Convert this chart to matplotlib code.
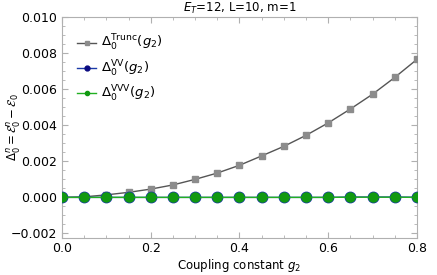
import matplotlib.pyplot as plt
from matplotlib.ticker import MultipleLocator

g2 = [0.0, 0.05, 0.1, 0.15, 0.2, 0.25, 0.3, 0.35, 0.4, 0.45, 0.5, 0.55, 0.6, 0.65, 0.7, 0.75, 0.8]
delta_trunc = [0.0, 0.00003, 0.00014, 0.00028, 0.00046, 0.00069, 0.00100, 0.00135, 0.00178, 0.00230,
               0.00283, 0.00344, 0.00413, 0.00490, 0.00572, 0.00665, 0.00765]
delta_vv = [0.0, 0.0, 0.0, 0.0, 0.0, 0.0, 0.0, 0.0, 0.0, 0.0, 0.0, 0.0, 0.0, 0.00002, 0.00002, 0.00002, 0.00001]
delta_vvv = [0.0, 0.0, 0.0, 0.0, 0.0, 0.0, 0.0, 0.0, 0.0, 0.0, 0.0, 0.0, 0.0, 0.00001, 0.00001, 0.00001, 0.0]

plt.rcParams['font.family'] = ['DejaVu Sans']
plt.rcParams['mathtext.fontset'] = 'dejavusans'

fig = plt.figure(figsize=(4.37, 2.75), dpi=100)
ax = fig.add_axes([0.142, 0.136, 0.812, 0.802])

ax.plot(g2, delta_trunc, color="#555555", lw=1.0, marker="s", ms=4.5,
        mfc="#8c8c8c", mec="#8c8c8c", zorder=3)
ax.plot(g2, delta_vv, color="#1a3aa8", lw=1.0, marker="o", ms=7.5,
        mfc="#0a0a80", mec="#1a3aa8", zorder=4)
ax.plot(g2, delta_vvv, color="#22b022", lw=1.0, marker="o", ms=6.5,
        mfc="#119911", mec="#119911", zorder=5)

# small markers in the legend, as in the original
h1, = ax.plot([], [], color="#555555", lw=1.0, marker="s", ms=3.5, mfc="#8c8c8c", mec="#8c8c8c")
h2, = ax.plot([], [], color="#1a3aa8", lw=1.0, marker="o", ms=3.5, mfc="#0a0a80", mec="#0a0a80")
h3, = ax.plot([], [], color="#22b022", lw=1.0, marker="o", ms=3.0, mfc="#119911", mec="#119911")
ax.legend([h1, h2, h3],
          [r"$\Delta_0^{\rm Trunc}(g_2)$", r"$\Delta_0^{\rm VV}(g_2)$", r"$\Delta_0^{\rm VVV}(g_2)$"],
          loc="upper left", frameon=False, fontsize=9.5, handlelength=1.4,
          handletextpad=0.4, labelspacing=0.4, borderaxespad=0.5,
          bbox_to_anchor=(0.01, 0.98))

ax.set_xlim(0, 0.8)
ax.set_ylim(-0.00223, 0.010)
ax.xaxis.set_major_locator(MultipleLocator(0.2))
ax.xaxis.set_minor_locator(MultipleLocator(0.05))
ax.yaxis.set_major_locator(MultipleLocator(0.002))
ax.yaxis.set_minor_locator(MultipleLocator(0.0005))
ax.xaxis.set_major_formatter(plt.FuncFormatter(lambda v, p: f"{v:.1f}"))
ax.yaxis.set_major_formatter(plt.FuncFormatter(lambda v, p: f"{v:.3f}".replace("-", "\u2212")))

for s in ax.spines.values():
    s.set_color("#b0b0b0")
    s.set_linewidth(0.8)
ax.tick_params(which="both", direction="in", top=True, right=True, color="#b0b0b0",
               labelsize=9, labelcolor="black")
ax.tick_params(which="major", length=4)
ax.tick_params(which="minor", length=2)

ax.set_title(r"$E_T$=12, L=10, m=1", fontsize=8.5, pad=4)
ax.set_xlabel(r"Coupling constant $g_2$", fontsize=8.5)
ax.xaxis.set_label_coords(0.5, -0.125)
ax.xaxis.label.set_va("center")
ax.set_ylabel(r"$\Delta_0^n = \mathcal{E}_0^n - \mathcal{E}_0$", fontsize=8.5)
ax.yaxis.set_label_coords(-0.135, 0.5)
ax.yaxis.label.set_va("center")

fig.savefig("out.png", dpi=100)
